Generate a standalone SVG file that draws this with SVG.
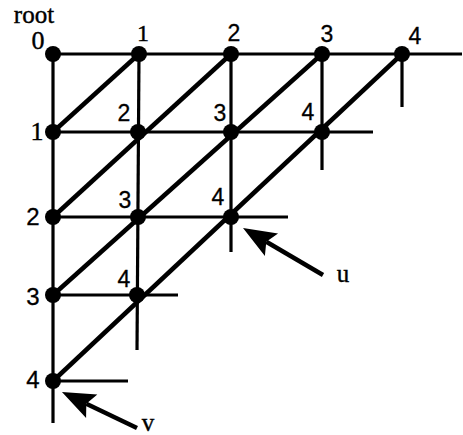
<svg xmlns="http://www.w3.org/2000/svg" width="463" height="435" viewBox="0 0 463 435">
<style>
.h{stroke:#000;stroke-width:2.8;fill:none}
.v{stroke:#000;stroke-width:3.2;fill:none}
.d{stroke:#000;stroke-width:4.5;fill:none}
.a{stroke:#000;stroke-width:4.5;fill:none;marker-end:url(#ah)}
.n{fill:#000}
.s{font-family:"Liberation Serif","Times New Roman",serif;fill:#000;stroke:#000;stroke-width:0.4;text-anchor:middle}
.ss{font-family:"Liberation Sans",Arial,sans-serif;fill:#000;stroke:#000;stroke-width:0.3;text-anchor:middle}
</style>
<defs>
<marker id="ah" viewBox="-7 -14 36 28" refX="0" refY="0" markerWidth="36" markerHeight="28" markerUnits="userSpaceOnUse" orient="auto">
<path d="M0,0 L-6,-13 L27,0 L-6,13 Z" fill="#000"/>
</marker>
</defs>
<rect width="463" height="435" fill="#fff"/>
<g id="connectors">
<line class="h" x1="53" y1="54" x2="462" y2="54"/>
<line class="h" x1="53" y1="132" x2="373" y2="132"/>
<line class="h" x1="53" y1="217" x2="288" y2="217"/>
<line class="h" x1="53" y1="295" x2="178" y2="295"/>
<line class="h" x1="53" y1="381" x2="128" y2="381"/>
<line class="v" x1="53" y1="54" x2="53" y2="423"/>
<line class="v" x1="139" y1="54" x2="137" y2="350"/>
<line class="v" x1="231" y1="54" x2="231" y2="252"/>
<line class="v" x1="322" y1="54" x2="322" y2="170"/>
<line class="v" x1="402" y1="54" x2="402" y2="107"/>
<line class="d" x1="139" y1="54" x2="53" y2="132"/>
<line class="d" x1="231" y1="54" x2="53" y2="217"/>
<line class="d" x1="322" y1="54" x2="53" y2="295"/>
<line class="d" x1="402" y1="54" x2="53" y2="381"/>
<line class="a" x1="323" y1="275" x2="266.3" y2="241.7"/>
<line class="a" x1="137" y1="428" x2="86.3" y2="403.7"/>
</g>
<text class="s" x="34" y="23" font-size="25">root</text>
<g id="n00"><circle class="n" cx="53" cy="54" r="8"/><text class="s" x="38" y="49" font-size="26">0</text></g>
<g id="n01"><circle class="n" cx="139" cy="54" r="8"/><text class="s" x="143" y="41" font-size="24">1</text></g>
<g id="n02"><circle class="n" cx="231" cy="54" r="8"/><text class="ss" x="234" y="41" font-size="23">2</text></g>
<g id="n03"><circle class="n" cx="322" cy="54" r="8"/><text class="ss" x="327" y="42" font-size="23">3</text></g>
<g id="n04"><circle class="n" cx="402" cy="54" r="8"/><text class="ss" x="415" y="44" font-size="23">4</text></g>
<g id="n10"><circle class="n" cx="53" cy="132" r="8"/><text class="s" x="37" y="140" font-size="26">1</text></g>
<g id="n11"><circle class="n" cx="138" cy="132" r="8"/><text class="ss" x="124" y="121" font-size="23">2</text></g>
<g id="n12"><circle class="n" cx="231" cy="132" r="8"/><text class="ss" x="220" y="121" font-size="23">3</text></g>
<g id="n13"><circle class="n" cx="322" cy="132" r="8"/><text class="ss" x="308" y="120" font-size="23">4</text></g>
<g id="n20"><circle class="n" cx="53" cy="217" r="8"/><text class="ss" x="33" y="225" font-size="24">2</text></g>
<g id="n21"><circle class="n" cx="138" cy="217" r="8"/><text class="ss" x="125" y="208" font-size="23">3</text></g>
<g id="n22"><circle class="n" cx="231" cy="217" r="8"/><text class="ss" x="218" y="205" font-size="23">4</text></g>
<g id="n30"><circle class="n" cx="53" cy="295" r="8"/><text class="ss" x="33" y="305" font-size="24">3</text></g>
<g id="n31"><circle class="n" cx="137" cy="295" r="8"/><text class="ss" x="124" y="287" font-size="23">4</text></g>
<g id="n40"><circle class="n" cx="53" cy="381" r="8"/><text class="ss" x="33" y="388" font-size="24">4</text></g>
<text class="s" x="343" y="282" font-size="25">u</text>
<text class="s" x="148" y="431" font-size="25">v</text>
</svg>
